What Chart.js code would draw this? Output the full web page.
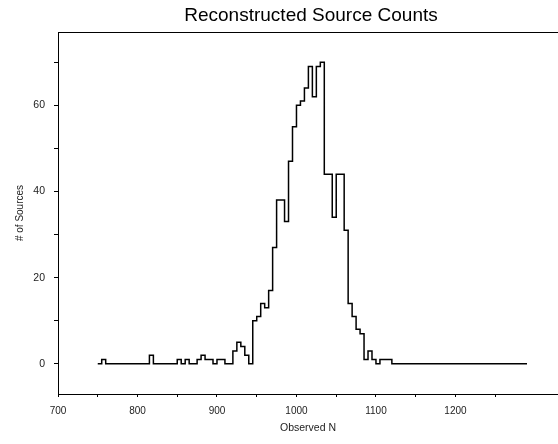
<!DOCTYPE html>
<html>
<head>
<meta charset="utf-8">
<script src="https://cdn.jsdelivr.net/npm/chart.js@4"></script>
<style>
  html, body { margin: 0; padding: 0; background: #fff; }
  #wrap { width: 558px; height: 444px; }
</style>
</head>
<body>
<div id="wrap"><canvas id="myChart"></canvas></div>
<script>
// histogram of reconstructed source counts, bins of 5 starting at 750
const titleText = "Reconstructed Source Counts";
const binStart = 750;
const binWidth = 5;
const counts = [
  0, 1, 0, 0, 0, 0, 0, 0, 0, 0,
  0, 0, 0, 2, 0, 0, 0, 0, 0, 0,
  1, 0, 1, 0, 0, 1, 2, 1, 1, 0,
  1, 1, 0, 0, 3, 5, 4, 2, 0, 10,
  11, 14, 13, 17, 27, 38, 38, 33, 47, 55,
  60, 61, 64, 69, 62, 69, 70, 44, 44, 34,
  44, 44, 31, 14, 11, 8, 7, 1, 3, 1,
  0, 1, 1, 1, 0, 0, 0, 0, 0, 0,
  0, 0, 0, 0, 0, 0, 0, 0, 0, 0,
  0, 0, 0, 0, 0, 0, 0, 0, 0, 0,
  0, 0, 0, 0, 0, 0, 0, 0,
];
const xTicks = [700, 750, 800, 850, 900, 950, 1000, 1050, 1100, 1150, 1200, 1250];
const yTicks = [0, 10, 20, 30, 40, 50, 60, 70];

var points = counts.map((c, i) => ({ x: binStart + i * binWidth, y: c }));
points.push({ x: binStart + counts.length * binWidth, y: 0 });

// top frame line + title centred over the plot area
const frame = {
  id: "frame",
  afterDraw(chart) {
    const a = chart.chartArea;
    const ctx = chart.ctx;
    ctx.save();
    ctx.strokeStyle = "#000";
    ctx.lineWidth = 1;
    ctx.beginPath();
    ctx.moveTo(a.left, a.top + 0.5);
    ctx.lineTo(a.right, a.top + 0.5);
    ctx.stroke();
    ctx.fillStyle = "#000";
    ctx.font = "19px 'Liberation Sans'";
    ctx.textAlign = "center";
    ctx.textBaseline = "middle";
    ctx.fillText(titleText, (a.left + a.right) / 2 + 3, a.top / 2);
    ctx.restore();
  },
};

var ctx = document.getElementById("myChart").getContext("2d");
var chart = new Chart(ctx, {
  type: "line",
  data: {
    datasets: [
      {
        label: "counts",
        data: points,
        borderColor: "#000",
        borderWidth: 1.5,
        stepped: true,
        pointRadius: 0,
        fill: false,
      },
    ],
  },
  options: {
    animation: false,
    responsive: true,
    maintainAspectRatio: false,
    layout: { padding: { left: 0, right: 0, top: 32, bottom: 0 } },
    plugins: {
      legend: { display: false },
      tooltip: { enabled: false },
      title: { display: false },
    },
    scales: {
      x: {
        type: "linear",
        min: 700,
        max: 1329,
        afterBuildTicks: (s) => { s.ticks = xTicks.map((v) => ({ value: v })); },
        afterFit: (s) => { s.height = 50; },
        grid: { display: true, drawOnChartArea: false, drawTicks: true, tickLength: 3, color: "#000" },
        border: { display: true, color: "#000", width: 1 },
        ticks: {
          autoSkip: false,
          maxRotation: 0,
          padding: 8,
          color: "#222",
          font: { family: "Liberation Sans", size: 10 },
          callback: (v) => (v % 100 === 0 ? String(v) : ""),
        },
        title: {
          display: true,
          text: "Observed N",
          color: "#222",
          font: { family: "Liberation Sans", size: 10.5 },
          padding: { top: 0, bottom: 10 },
        },
      },
      y: {
        min: -7,
        max: 77,
        afterBuildTicks: (s) => { s.ticks = yTicks.map((v) => ({ value: v })); },
        afterFit: (s) => { s.width = 58; },
        grid: { display: true, drawOnChartArea: false, drawTicks: true, tickLength: 4, color: "#000" },
        border: { display: true, color: "#000", width: 1 },
        ticks: {
          autoSkip: false,
          padding: 9,
          color: "#222",
          font: { family: "Liberation Sans", size: 10.5 },
          callback: (v) => (v % 20 === 0 ? String(v) : ""),
        },
        title: {
          display: true,
          text: "# of Sources",
          color: "#222",
          font: { family: "Liberation Sans", size: 10 },
          padding: { top: 14, bottom: 0 },
        },
      },
    },
  },
  plugins: [frame],
});
</script>
</body>
</html>
